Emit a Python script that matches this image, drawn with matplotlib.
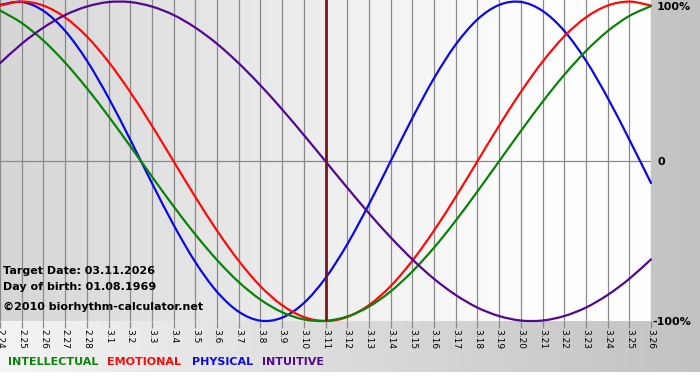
import numpy as np
import matplotlib
matplotlib.use("Agg")
import matplotlib.pyplot as plt
from matplotlib.colors import LinearSegmentedColormap
from matplotlib.path import Path
from matplotlib.patches import PathPatch

# days shown on the axis
dates = ["2.24", "2.25", "2.26", "2.27", "2.28", "3.1", "3.2", "3.3", "3.4", "3.5",
         "3.6", "3.7", "3.8", "3.9", "3.10", "3.11", "3.12", "3.13", "3.14", "3.15",
         "3.16", "3.17", "3.18", "3.19", "3.20", "3.21", "3.22", "3.23", "3.24", "3.25",
         "3.26"]
target_date = "3.11"

# values (-1 .. 1)
physical = [0.979, 0.998, 0.942, 0.817, 0.631, 0.398, 0.136, -0.136, -0.398, -0.631,
            -0.817, -0.942, -0.998, -0.979, -0.888, -0.731, -0.520, -0.270, 0.000, 0.270,
            0.520, 0.731, 0.888, 0.979, 0.998, 0.942, 0.817, 0.631, 0.398, 0.136,
            -0.136]
emotional = [0.975, 1.000, 0.975, 0.901, 0.782, 0.623, 0.434, 0.223, 0.000, -0.223,
             -0.434, -0.623, -0.782, -0.901, -0.975, -1.000, -0.975, -0.901, -0.782, -0.623,
             -0.434, -0.223, 0.000, 0.223, 0.434, 0.623, 0.782, 0.901, 0.975, 1.000,
             0.975]
intellectual = [0.945, 0.866, 0.756, 0.618, 0.458, 0.282, 0.095, -0.095, -0.282, -0.458,
                -0.618, -0.756, -0.866, -0.945, -0.990, -0.999, -0.972, -0.910, -0.815, -0.690,
                -0.541, -0.372, -0.189, 0.000, 0.189, 0.372, 0.541, 0.690, 0.815, 0.910,
                0.972]
intuitive = [0.614, 0.736, 0.837, 0.916, 0.969, 0.997, 0.997, 0.969, 0.916, 0.837,
             0.736, 0.614, 0.476, 0.325, 0.165, 0.000, -0.165, -0.325, -0.476, -0.614,
             -0.736, -0.837, -0.916, -0.969, -0.997, -0.997, -0.969, -0.916, -0.837, -0.736,
             -0.614]

legend_names = ["INTELLECTUAL", "EMOTIONAL", "PHYSICAL", "INTUITIVE"]
info_lines = ["Target Date: 03.11.2026", "Day of birth: 01.08.1969",
              "\u00a92010 biorhythm-calculator.net"]

W, H = 700, 380
fig = plt.figure(figsize=(W / 100, H / 100), dpi=100)
fig.patch.set_facecolor("white")

def fx(x):
    return x / W

def fy(y):
    return 1 - y / H

def smooth_line(ax, xs, ys, color):
    # curved (bezier) line through the daily points, like the original chart
    pts = np.column_stack([xs, ys]).astype(float)
    ext = np.vstack([pts[0], pts, pts[-1]])
    verts = [pts[0]]
    codes = [Path.MOVETO]
    for i in range(len(pts) - 1):
        p0, p1, p2, p3 = ext[i], ext[i + 1], ext[i + 2], ext[i + 3]
        verts += [p1 + (p2 - p0) / 6, p2 - (p3 - p1) / 6, p2]
        codes += [Path.CURVE4] * 3
    patch = PathPatch(Path(verts, codes), fill=False, edgecolor=color, lw=1.6,
                      zorder=3, clip_on=False, capstyle="round", joinstyle="round")
    ax.add_patch(patch)

# page background: light on the left, grey on the right
bg = fig.add_axes([0, fy(372), 1, 372 / H])
bg.imshow(np.linspace(0, 1, 256)[None, :], aspect="auto", extent=[0, 1, 0, 1],
          cmap=LinearSegmentedColormap.from_list("bg", ["#f4f4f4", "#c2c2c2"]))
bg.axis("off")

# plot area
ax = fig.add_axes([0, fy(321), fx(651), 321 / H])
x = np.arange(len(dates))
ax.imshow(np.linspace(0, 1, 256)[None, :], aspect="auto",
          extent=[0, len(dates) - 1, -1, 1.01], zorder=0,
          cmap=LinearSegmentedColormap.from_list(
              "plot", [(0, "#d6d6d6"), (0.45, "#ececec"), (0.8, "#fdfdfd"), (1, "#ffffff")]))
ax.set_xlim(0, len(dates) - 1)
ax.set_ylim(-1, 1.01)

for xi in x:
    ax.axvline(xi, color="#8a8a8a", lw=0.9, zorder=1)
ax.axhline(0, color="#8a8a8a", lw=0.9, zorder=1)

smooth_line(ax, x, physical, "#0a0ae6")
smooth_line(ax, x, emotional, "#ff0a0a")
smooth_line(ax, x, intellectual, "#0a820a")
smooth_line(ax, x, intuitive, "#52088f")

ax.axvline(dates.index(target_date), color="#7a1515", lw=2, zorder=4)

ax.set_xticks(x)
ax.set_xticklabels(dates, rotation=270, fontsize=6.5)
ax.tick_params(axis="x", length=5, width=0.9, color="#8a8a8a", pad=1)
ax.set_yticks([])
for s in ax.spines.values():
    s.set_visible(False)

# right-hand labels
fig.text(fx(657), fy(7), "100%", fontsize=8, fontweight="bold", va="center", ha="left")
fig.text(fx(657), fy(162), "0", fontsize=8, fontweight="bold", va="center", ha="left")
fig.text(fx(652), fy(322), "-100%", fontsize=8, fontweight="bold", va="center", ha="left")

# info text, bottom left of the plot
for txt, yy in zip(info_lines, [271, 287, 307]):
    fig.text(fx(3), fy(yy), txt, fontsize=8, fontweight="bold", va="center", ha="left",
             zorder=10)

# legend
leg_colors = ["#0a820a", "#ff0a0a", "#0a0ae6", "#52088f"]
leg_x = [8, 107, 192, 262]
for name, c, lx in zip(legend_names, leg_colors, leg_x):
    fig.text(fx(lx), fy(362), name, color=c, fontsize=8, fontweight="bold",
             va="center", ha="left")

fig.savefig("out.png", dpi=100)
